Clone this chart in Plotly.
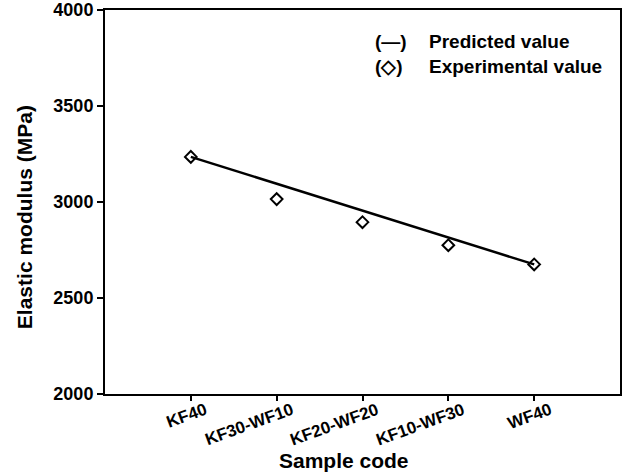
import plotly.graph_objects as go

categories = ["KF40", "KF30-WF10", "KF20-WF20", "KF10-WF30", "WF40"]
predicted = [3235, 3095, 2955, 2815, 2675]
experimental = [3235, 3015, 2895, 2775, 2675]
y_ticks = [2000, 2500, 3000, 3500, 4000]

xs = list(range(len(categories)))
font_family = "Liberation Sans, Arial, sans-serif"

fig = go.Figure()
fig.add_trace(go.Scatter(x=xs, y=predicted, mode="lines",
                         line=dict(color="black", width=2.5), showlegend=False))
fig.add_trace(go.Scatter(x=xs, y=experimental, mode="markers",
                         marker=dict(symbol="diamond-open", size=9, color="black",
                                     line=dict(width=2, color="black")),
                         showlegend=False))

# legend as text
leg_font = dict(size=19, family=font_family, color="black")
fig.add_annotation(x=0.52, y=0.919, xref="paper", yref="paper", xanchor="left", yanchor="middle",
                   text="<b>(\u2014)</b>", showarrow=False, font=leg_font)
fig.add_annotation(x=0.52, y=0.852, xref="paper", yref="paper", xanchor="left", yanchor="middle",
                   text="<b>(\u25c7)</b>", showarrow=False, font=leg_font)
fig.add_annotation(x=0.625, y=0.919, xref="paper", yref="paper", xanchor="left", yanchor="middle",
                   text="<b>Predicted value</b>", showarrow=False, font=leg_font)
fig.add_annotation(x=0.625, y=0.852, xref="paper", yref="paper", xanchor="left", yanchor="middle",
                   text="<b>Experimental value</b>", showarrow=False, font=leg_font)

# rotated category labels
for xi, c in zip(xs, categories):
    fig.add_annotation(x=xi, y=-0.008, xref="x", yref="paper", xanchor="right",
                       yanchor="top", xshift=22, textangle=-20,
                       text=f"<b>{c}</b>", showarrow=False,
                       font=dict(size=17, family=font_family, color="black"))

# axis titles
fig.add_annotation(x=0.464, y=-0.172, xref="paper", yref="paper",
                   xanchor="center", yanchor="middle",
                   text="<b>Sample code</b>", showarrow=False,
                   font=dict(size=21, family=font_family, color="black"))
fig.add_annotation(x=-0.155, y=0.461, xref="paper", yref="paper", textangle=-90,
                   xanchor="center", yanchor="middle",
                   text="<b>Elastic modulus (MPa)</b>", showarrow=False,
                   font=dict(size=21, family=font_family, color="black"))

fig.update_layout(
    width=644, height=473,
    margin=dict(l=105, r=24, t=10, b=79, autoexpand=False),
    plot_bgcolor="white", paper_bgcolor="white",
    font=dict(family=font_family, color="black"),
    xaxis=dict(range=[-1, 5], tickvals=xs, ticktext=["" for _ in categories],
               ticks="outside", ticklen=5, tickwidth=2, tickcolor="black",
               showline=True, linecolor="black", linewidth=2, mirror=True,
               showgrid=False, zeroline=False, automargin=False),
    yaxis=dict(range=[2000, 4000], tickvals=y_ticks,
               ticktext=[f"<b>{v}</b>" for v in y_ticks],
               ticks="outside", ticklen=6, tickwidth=2, tickcolor="black",
               showline=True, linecolor="black", linewidth=2, mirror=True,
               showgrid=False, zeroline=False, automargin=False,
               tickfont=dict(size=18, family=font_family)),
)

fig.write_html("out.html")
